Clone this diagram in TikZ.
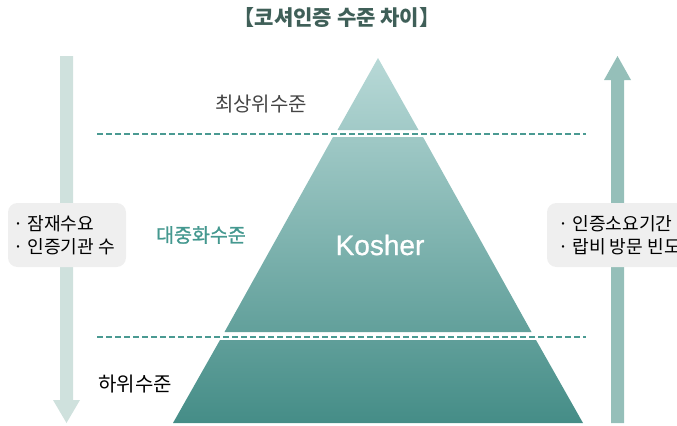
\documentclass[tikz,border=0pt]{standalone}
\usepackage{fontspec}
\setmainfont{Noto Sans CJK KR}
\newfontfamily\latinsans[FakeBold=0.8]{Liberation Sans}
\newfontfamily\semibold[FakeBold=1.2]{Noto Sans CJK KR}
\definecolor{titlec}{HTML}{3F5F58}
\definecolor{dashc}{HTML}{4A9A92}
\definecolor{pyrtop}{HTML}{B8D9D7}
\definecolor{pyrbot}{HTML}{458D87}
\definecolor{leftarr}{HTML}{CFE1DD}
\definecolor{rightarr}{HTML}{95BFB9}
\definecolor{boxc}{HTML}{EFEFEF}
\definecolor{midlab}{HTML}{44988F}
\definecolor{darklab}{HTML}{444444}
\tikzset{
  divider/.style={draw=dashc, line width=2pt, dash pattern=on 4.5pt off 2.25pt},
  infobox/.style={align=left, inner sep=0pt, font=\fontsize{13.6}{17.5}\selectfont, text=black},
  lvl/.style={font=\fontsize{15}{17}\selectfont},
}
\begin{document}
\begin{tikzpicture}[x=0.75pt,y=-0.75pt]
\useasboundingbox (0,0) rectangle (677,425);
% title
\node[text=titlec, font=\fontsize{15.8}{18}\selectfont\bfseries] (title) at (337,18) {【코셔인증 수준 차이】};
% side arrows
\fill[leftarr] (60,56) -- (73,56) -- (73,400) -- (80,400) -- (66.5,423) -- (53,400) -- (60,400) -- cycle;
\fill[rightarr] (611,423) -- (624,423) -- (624,80) -- (631,80) -- (617.5,56) -- (604,80) -- (611,80) -- cycle;
% pyramid
\shade[top color=pyrtop, bottom color=pyrbot]
  (378,58) -- (418.5,130) -- (337.5,130) -- cycle
  (333,137) -- (423,137) -- (531.5,332) -- (224.5,332) -- cycle
  (220,340) -- (536,340) -- (583,423) -- (173,423) -- cycle;
% dividers
\coordinate (d1a) at (97,134) ; \coordinate (d1b) at (586,134);
\coordinate (d2a) at (97,337); \coordinate (d2b) at (586,337);
\draw[divider] (d1a) -- (d1b);
\draw[divider] (d2a) -- (d2b);
% labels
\node[lvl, text=darklab] (top) at (261,104) {최상위수준};
\node[text=midlab, font=\semibold\fontsize{14.6}{17}\selectfont] (mid) at (201,235) {대중화수준};
\node[lvl, text=black] (low) at (135,384) {하위수준};
\node[text=white, font=\latinsans\fontsize{21}{24}\selectfont] (kosher) at (380,245) {Kosher};
% boxes
\fill[boxc, rounded corners=7pt] (8,203) rectangle (126,267);
\node[infobox, anchor=west] (lbox) at (13,235) {· 잠재수요\\· 인증기관 수};
\fill[boxc, rounded corners=7pt] (547,203) rectangle (700,267);
\node[infobox, anchor=west] (rbox) at (558,235) {· 인증소요기간\\· 랍비 방문 빈도};
\end{tikzpicture}
\end{document}
